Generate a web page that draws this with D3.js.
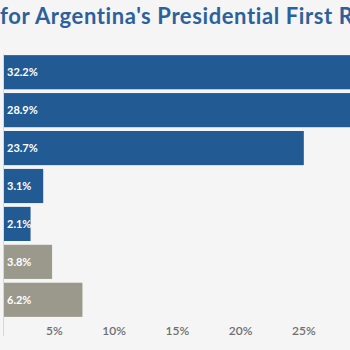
<!DOCTYPE html>
<html>
<head>
<meta charset="utf-8">
<script src="https://cdn.jsdelivr.net/npm/d3@7"></script>
<style>
  html, body { margin: 0; padding: 0; background: #f5f5f5; overflow: hidden; }
  svg { display: block; }
</style>
</head>
<body>
<svg id="chart"></svg>
<script>
// categories are off the left edge of the picture, only values show
const candidates = ["Milei", "Massa", "Bullrich", "Schiaretti", "Bregman", "Blank", "Undecided"];
const shares = [32.2, 28.9, 23.7, 3.1, 2.1, 3.8, 6.2];
const groups = ["cand", "cand", "cand", "cand", "cand", "other", "other"];
const xTicks = [5, 10, 15, 20, 25];
const titleText = "for Argentina's Presidential First Round";

const WIDTH = 350, HEIGHT = 350;
const MARGIN = { top: 54, bottom: 32, left: 4 };

const data = candidates.map((c, i) => ({ name: c, value: shares[i], group: groups[i] }));

const svg = d3.select("#chart").attr("width", WIDTH).attr("height", HEIGHT);

// title (cut off on both sides like the reference)
svg.append("text")
  .attr("x", 0)
  .attr("y", 24)
  .attr("fill", "#2c619c")
  .style("font-family", "Lato, 'Open Sans', sans-serif")
  .style("font-weight", "bold")
  .style("font-size", "22px")
  .style("letter-spacing", "0.6px")
  .text(titleText);

const x = d3.scaleLinear()
  .domain([0, 25])
  .range([MARGIN.left, MARGIN.left + 25 * 12.65]);

const y = d3.scaleBand()
  .domain(candidates)
  .range([MARGIN.top, HEIGHT - MARGIN.bottom])
  .paddingInner(0.1)
  .paddingOuter(0.03);

const color = d3.scaleOrdinal().domain(["cand", "other"]).range(["#225a94", "#9a998c"]);

// left baseline
svg.append("line")
  .attr("x1", x(0) - 0.5).attr("x2", x(0) - 0.5)
  .attr("y1", MARGIN.top).attr("y2", HEIGHT - 14)
  .attr("stroke", "#d8d8d8")
  .attr("stroke-width", 1);

svg.selectAll(".bar")
  .data(data)
  .enter()
  .append("rect")
  .classed("bar", true)
  .attr("x", x(0))
  .attr("y", d => y(d.name))
  .attr("width", d => x(d.value) - x(0))
  .attr("height", y.bandwidth())
  .attr("fill", d => color(d.group));

svg.selectAll(".label")
  .data(data)
  .enter()
  .append("text")
  .classed("label", true)
  .attr("x", x(0) + 3)
  .attr("y", d => y(d.name) + y.bandwidth() / 2)
  .attr("dy", "0.35em")
  .attr("fill", "#ffffff")
  .style("font-family", "Lato, sans-serif")
  .style("font-weight", "bold")
  .style("font-size", "11px")
  .text(d => d.value + "%");

// bottom axis, labels only
const axis = svg.append("g")
  .attr("transform", `translate(0, ${HEIGHT - 15})`)
  .call(d3.axisBottom(x).tickValues(xTicks).tickFormat(d => d + "%").tickSize(0).tickPadding(0));

axis.select(".domain").remove();
axis.selectAll("text")
  .attr("text-anchor", "end")
  .attr("dx", -5)
  .attr("dy", 0)
  .attr("fill", "#6f6f6f")
  .style("font-family", "Lato, sans-serif")
  .style("font-weight", "600")
  .style("font-size", "12px");
</script>
</body>
</html>
